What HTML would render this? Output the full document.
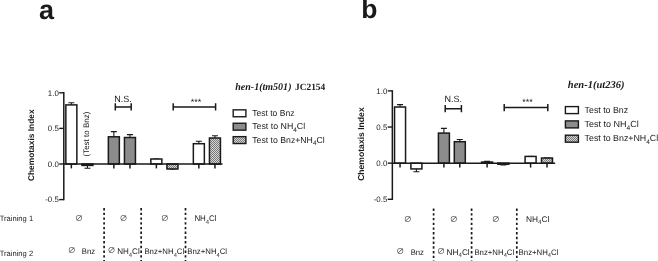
<!DOCTYPE html>
<html><head><meta charset="utf-8"><title>Chemotaxis Index</title>
<style>
html,body{margin:0;padding:0;background:#fff;}
svg{display:block}
text{text-rendering:geometricPrecision}
.s{font-family:"Liberation Sans",Arial,Helvetica,sans-serif;fill:#1a1a1a}
.o{font-family:"Liberation Sans","Noto Sans CJK SC",sans-serif;fill:#333}
.b{font-family:"Liberation Sans",Arial,Helvetica,sans-serif;font-weight:bold;fill:#1a1a1a}
.t{font-family:"Liberation Serif","Times New Roman",serif;font-weight:bold;fill:#1a1a1a}
</style></head><body>
<svg width="658" height="261" viewBox="0 0 658 261">
<defs><pattern id="hp" width="2" height="2" patternUnits="userSpaceOnUse"><rect width="2" height="2" fill="#d6d6d6"/><rect width="1" height="1" fill="#787878"/><rect x="1" y="1" width="1" height="1" fill="#787878"/></pattern></defs>
<rect width="658" height="261" fill="#fff"/>
<text x="39" y="18.5" font-size="27" class="b">a</text>
<text x="361.3" y="18.2" font-size="26.5" class="b">b</text>
<text transform="translate(34 145.25) rotate(-90)" text-anchor="middle" font-size="8.4" class="b">Chemotaxis Index</text>
<text transform="translate(364 144.1) rotate(-90)" text-anchor="middle" font-size="8.6" class="b">Chemotaxis Index</text>
<text transform="translate(89.2 156.5) rotate(-90)" font-size="8" class="s">(Test to Bnz)</text>
<path d="M71.35 104.90V102.77M68.35 102.77H74.35" stroke="#1a1a1a" stroke-width="1.1" fill="none"/>
<rect x="65.85" y="104.90" width="11.00" height="59.10" fill="#fff" stroke="#1a1a1a" stroke-width="1.5"/>
<path d="M87.45 165.42V168.27M84.45 168.27H90.45" stroke="#1a1a1a" stroke-width="1.1" fill="none"/>
<rect x="81.95" y="164.00" width="11.00" height="1.42" fill="#fff" stroke="#1a1a1a" stroke-width="1.5"/>
<path d="M113.85 136.80V131.60M110.85 131.60H116.85" stroke="#1a1a1a" stroke-width="1.1" fill="none"/>
<rect x="108.35" y="136.80" width="11.00" height="27.20" fill="#8c8c8c" stroke="#1a1a1a" stroke-width="1.5"/>
<path d="M129.95 137.51V134.67M126.95 134.67H132.95" stroke="#1a1a1a" stroke-width="1.1" fill="none"/>
<rect x="124.45" y="137.51" width="11.00" height="26.49" fill="#8c8c8c" stroke="#1a1a1a" stroke-width="1.5"/>
<path d="M156.35 159.02V159.02M153.35 159.02H159.35" stroke="#1a1a1a" stroke-width="1.1" fill="none"/>
<rect x="150.85" y="159.02" width="11.00" height="4.98" fill="#fff" stroke="#1a1a1a" stroke-width="1.5"/>
<path d="M172.45 168.98V168.98M169.45 168.98H175.45" stroke="#1a1a1a" stroke-width="1.1" fill="none"/>
<rect x="166.95" y="164.00" width="11.00" height="4.98" fill="url(#hp)" stroke="#1a1a1a" stroke-width="1.5"/>
<path d="M198.85 143.71V141.22M195.85 141.22H201.85" stroke="#1a1a1a" stroke-width="1.1" fill="none"/>
<rect x="193.35" y="143.71" width="11.00" height="20.29" fill="#fff" stroke="#1a1a1a" stroke-width="1.5"/>
<path d="M214.95 138.01V135.73M211.95 135.73H217.95" stroke="#1a1a1a" stroke-width="1.1" fill="none"/>
<rect x="209.45" y="138.01" width="11.00" height="25.99" fill="url(#hp)" stroke="#1a1a1a" stroke-width="1.5"/>
<path d="M63.80 92.10V200.30M63.80 164.00H222.50" stroke="#1a1a1a" stroke-width="1.5" fill="none"/>
<path d="M59.20 92.80H63.80" stroke="#1a1a1a" stroke-width="1.4"/>
<text x="58.80" y="95.60" text-anchor="end" font-size="7.9" class="s">1.0</text>
<path d="M59.20 128.40H63.80" stroke="#1a1a1a" stroke-width="1.4"/>
<text x="58.80" y="131.20" text-anchor="end" font-size="7.9" class="s">0.5</text>
<path d="M59.20 164.00H63.80" stroke="#1a1a1a" stroke-width="1.4"/>
<text x="58.80" y="166.80" text-anchor="end" font-size="7.9" class="s">0.0</text>
<path d="M59.20 199.60H63.80" stroke="#1a1a1a" stroke-width="1.4"/>
<text x="58.80" y="202.40" text-anchor="end" font-size="7.9" class="s">-0.5</text>
<path d="M71.35 164.00V168.40" stroke="#1a1a1a" stroke-width="1.5"/>
<path d="M113.85 164.00V168.40" stroke="#1a1a1a" stroke-width="1.5"/>
<path d="M129.95 164.00V168.40" stroke="#1a1a1a" stroke-width="1.5"/>
<path d="M156.35 164.00V168.40" stroke="#1a1a1a" stroke-width="1.5"/>
<path d="M198.85 164.00V168.40" stroke="#1a1a1a" stroke-width="1.5"/>
<path d="M214.95 164.00V168.40" stroke="#1a1a1a" stroke-width="1.5"/>
<path d="M115.30 106.90H131.20M115.30 103.30V110.50M131.20 103.30V110.50" stroke="#1a1a1a" stroke-width="1.5" fill="none"/>
<text x="123.00" y="101.90" text-anchor="middle" font-size="9.0" class="s">N.S.</text>
<path d="M173.20 106.90H215.60M173.20 103.30V110.50M215.60 103.30V110.50" stroke="#1a1a1a" stroke-width="1.5" fill="none"/>
<text x="196.00" y="104.80" text-anchor="middle" font-size="9" class="s">***</text>
<path d="M400.05 107.01V104.63M397.05 104.63H403.05" stroke="#1a1a1a" stroke-width="1.1" fill="none"/>
<rect x="394.55" y="107.01" width="11.00" height="56.14" fill="#fff" stroke="#1a1a1a" stroke-width="1.5"/>
<path d="M416.40 168.93V171.82M413.40 171.82H419.40" stroke="#1a1a1a" stroke-width="1.1" fill="none"/>
<rect x="410.90" y="163.15" width="11.00" height="5.78" fill="#fff" stroke="#1a1a1a" stroke-width="1.5"/>
<path d="M443.90 133.09V128.33M440.90 128.33H446.90" stroke="#1a1a1a" stroke-width="1.1" fill="none"/>
<rect x="438.40" y="133.09" width="11.00" height="30.06" fill="#8c8c8c" stroke="#1a1a1a" stroke-width="1.5"/>
<path d="M459.80 141.69V139.45M456.80 139.45H462.80" stroke="#1a1a1a" stroke-width="1.1" fill="none"/>
<rect x="454.30" y="141.69" width="11.00" height="21.46" fill="#8c8c8c" stroke="#1a1a1a" stroke-width="1.5"/>
<path d="M487.10 162.07V161.34M484.10 161.34H490.10" stroke="#1a1a1a" stroke-width="1.1" fill="none"/>
<rect x="481.60" y="162.07" width="11.00" height="1.08" fill="#fff" stroke="#1a1a1a" stroke-width="1.5"/>
<path d="M503.35 164.23V164.96M500.35 164.96H506.35" stroke="#1a1a1a" stroke-width="1.1" fill="none"/>
<rect x="497.85" y="163.15" width="11.00" height="1.08" fill="url(#hp)" stroke="#1a1a1a" stroke-width="1.5"/>
<path d="M530.60 156.43V156.43M527.60 156.43H533.60" stroke="#1a1a1a" stroke-width="1.1" fill="none"/>
<rect x="525.10" y="156.43" width="11.00" height="6.72" fill="#fff" stroke="#1a1a1a" stroke-width="1.5"/>
<path d="M547.00 158.02V158.02M544.00 158.02H550.00" stroke="#1a1a1a" stroke-width="1.1" fill="none"/>
<rect x="541.50" y="158.02" width="11.00" height="5.13" fill="url(#hp)" stroke="#1a1a1a" stroke-width="1.5"/>
<path d="M392.35 90.20V199.97M392.35 163.15H555.20" stroke="#1a1a1a" stroke-width="1.5" fill="none"/>
<path d="M387.75 90.90H392.35" stroke="#1a1a1a" stroke-width="1.4"/>
<text x="387.35" y="93.70" text-anchor="end" font-size="7.9" class="s">1.0</text>
<path d="M387.75 127.03H392.35" stroke="#1a1a1a" stroke-width="1.4"/>
<text x="387.35" y="129.83" text-anchor="end" font-size="7.9" class="s">0.5</text>
<path d="M387.75 163.15H392.35" stroke="#1a1a1a" stroke-width="1.4"/>
<text x="387.35" y="165.95" text-anchor="end" font-size="7.9" class="s">0.0</text>
<path d="M387.75 199.28H392.35" stroke="#1a1a1a" stroke-width="1.4"/>
<text x="387.35" y="202.08" text-anchor="end" font-size="7.9" class="s">-0.5</text>
<path d="M400.05 163.15V167.55" stroke="#1a1a1a" stroke-width="1.5"/>
<path d="M443.90 163.15V167.55" stroke="#1a1a1a" stroke-width="1.5"/>
<path d="M459.80 163.15V167.55" stroke="#1a1a1a" stroke-width="1.5"/>
<path d="M487.10 163.15V167.55" stroke="#1a1a1a" stroke-width="1.5"/>
<path d="M530.60 163.15V167.55" stroke="#1a1a1a" stroke-width="1.5"/>
<path d="M547.00 163.15V167.55" stroke="#1a1a1a" stroke-width="1.5"/>
<path d="M445.20 108.70H461.40M445.20 105.10V112.30M461.40 105.10V112.30" stroke="#1a1a1a" stroke-width="1.5" fill="none"/>
<text x="453.30" y="102.40" text-anchor="middle" font-size="9.0" class="s">N.S.</text>
<path d="M504.20 107.60H547.80M504.20 104.00V111.20M547.80 104.00V111.20" stroke="#1a1a1a" stroke-width="1.5" fill="none"/>
<text x="527.40" y="105.10" text-anchor="middle" font-size="9" class="s">***</text>
<text x="235.2" y="90.2" font-size="10.2" class="t" font-style="italic" textLength="56.3" lengthAdjust="spacingAndGlyphs">hen-1(tm501)</text>
<text x="295" y="90.2" font-size="9.6" class="t" textLength="30.2" lengthAdjust="spacingAndGlyphs">JC2154</text>
<text x="567.8" y="87.5" font-size="10.5" class="t" font-style="italic">hen-1(ut236)</text>
<rect x="233.2" y="109.85" width="12.7" height="6.9" fill="#fff" stroke="#1a1a1a" stroke-width="1.4"/>
<rect x="233.2" y="123.25" width="12.7" height="6.9" fill="#8c8c8c" stroke="#1a1a1a" stroke-width="1.4"/>
<rect x="233.2" y="136.65" width="12.7" height="6.9" fill="url(#hp)" stroke="#1a1a1a" stroke-width="1.4"/>
<text x="252.2" y="116.0" font-size="8.7" class="s" textLength="42.3" lengthAdjust="spacingAndGlyphs">Test to Bnz</text>
<text x="252.2" y="129.4" font-size="8.7" class="s" textLength="53.0" lengthAdjust="spacingAndGlyphs">Test to NH<tspan dy="2.6" font-size="6.4">4</tspan><tspan dy="-2.6">Cl</tspan></text>
<text x="252.2" y="142.79999999999998" font-size="8.7" class="s" textLength="72.5" lengthAdjust="spacingAndGlyphs">Test to Bnz+NH<tspan dy="2.6" font-size="6.4">4</tspan><tspan dy="-2.6">Cl</tspan></text>
<rect x="565.4" y="106.6" width="13" height="7" fill="#fff" stroke="#1a1a1a" stroke-width="1.4"/>
<rect x="565.4" y="120.9" width="13" height="7" fill="#8c8c8c" stroke="#1a1a1a" stroke-width="1.4"/>
<rect x="565.4" y="135.2" width="13" height="7" fill="url(#hp)" stroke="#1a1a1a" stroke-width="1.4"/>
<text x="584.6" y="112.8" font-size="8.85" class="s" textLength="43.5" lengthAdjust="spacingAndGlyphs">Test to Bnz</text>
<text x="584.6" y="127.10000000000001" font-size="8.85" class="s" textLength="54.2" lengthAdjust="spacingAndGlyphs">Test to NH<tspan dy="2.6" font-size="6.5">4</tspan><tspan dy="-2.6">Cl</tspan></text>
<text x="584.6" y="141.39999999999998" font-size="8.85" class="s" textLength="73.6" lengthAdjust="spacingAndGlyphs">Test to Bnz+NH<tspan dy="2.6" font-size="6.5">4</tspan><tspan dy="-2.6">Cl</tspan></text>
<text x="-0.3" y="220.6" font-size="7.7" class="s" textLength="33.4" lengthAdjust="spacingAndGlyphs">Training 1</text>
<text x="-0.3" y="256.2" font-size="7.7" class="s" textLength="33.4" lengthAdjust="spacingAndGlyphs">Training 2</text>
<path d="M104.10 208V261" stroke="#1a1a1a" stroke-width="1.7" stroke-dasharray="2.4 2.32" fill="none"/>
<path d="M141.15 208V261" stroke="#1a1a1a" stroke-width="1.7" stroke-dasharray="2.4 2.32" fill="none"/>
<path d="M185.50 208V261" stroke="#1a1a1a" stroke-width="1.7" stroke-dasharray="2.4 2.32" fill="none"/>
<text x="78.90" y="220.9" font-size="8" text-anchor="middle" class="o">&#8709;</text>
<text x="123.50" y="220.9" font-size="8" text-anchor="middle" class="o">&#8709;</text>
<text x="164.80" y="220.9" font-size="8" text-anchor="middle" class="o">&#8709;</text>
<text x="194.4" y="221.1" font-size="8.2" class="s" textLength="22.2" lengthAdjust="spacingAndGlyphs">NH<tspan dy="2.6" font-size="6.1">4</tspan><tspan dy="-2.6">Cl</tspan></text>
<text x="71.80" y="253.0" font-size="8" text-anchor="middle" class="o">&#8709;</text>
<text x="111.50" y="253.0" font-size="8" text-anchor="middle" class="o">&#8709;</text>
<text x="81.80" y="253.9" font-size="8" class="s" textLength="13.3" lengthAdjust="spacingAndGlyphs">Bnz</text>
<text x="117.2" y="253.9" font-size="8.2" class="s" textLength="22.5" lengthAdjust="spacingAndGlyphs">NH<tspan dy="2.6" font-size="6.1">4</tspan><tspan dy="-2.6">Cl</tspan></text>
<text x="144.4" y="253.9" font-size="8" class="s" textLength="39.8" lengthAdjust="spacingAndGlyphs">Bnz+NH<tspan dy="2.6" font-size="5.9">4</tspan><tspan dy="-2.6">Cl</tspan></text>
<text x="187.3" y="253.9" font-size="8" class="s" textLength="39.8" lengthAdjust="spacingAndGlyphs">Bnz+NH<tspan dy="2.6" font-size="5.9">4</tspan><tspan dy="-2.6">Cl</tspan></text>
<path d="M433.60 208.5V261" stroke="#1a1a1a" stroke-width="1.7" stroke-dasharray="2.4 2.32" fill="none"/>
<path d="M471.60 208.5V261" stroke="#1a1a1a" stroke-width="1.7" stroke-dasharray="2.4 2.32" fill="none"/>
<path d="M516.80 208.5V261" stroke="#1a1a1a" stroke-width="1.7" stroke-dasharray="2.4 2.32" fill="none"/>
<text x="407.80" y="221.6" font-size="8" text-anchor="middle" class="o">&#8709;</text>
<text x="453.70" y="221.6" font-size="8" text-anchor="middle" class="o">&#8709;</text>
<text x="495.75" y="221.6" font-size="8" text-anchor="middle" class="o">&#8709;</text>
<text x="525.9" y="221.7" font-size="8.2" class="s" textLength="23.4" lengthAdjust="spacingAndGlyphs">NH<tspan dy="2.6" font-size="6.1">4</tspan><tspan dy="-2.6">Cl</tspan></text>
<text x="400.30" y="254.1" font-size="8" text-anchor="middle" class="o">&#8709;</text>
<text x="441.10" y="254.1" font-size="8" text-anchor="middle" class="o">&#8709;</text>
<text x="410.70" y="254.8" font-size="8" class="s" textLength="13.3" lengthAdjust="spacingAndGlyphs">Bnz</text>
<text x="446.6" y="254.8" font-size="8.2" class="s" textLength="23.1" lengthAdjust="spacingAndGlyphs">NH<tspan dy="2.6" font-size="6.1">4</tspan><tspan dy="-2.6">Cl</tspan></text>
<text x="474.4" y="254.8" font-size="8" class="s" textLength="39.8" lengthAdjust="spacingAndGlyphs">Bnz+NH<tspan dy="2.6" font-size="5.9">4</tspan><tspan dy="-2.6">Cl</tspan></text>
<text x="518.6" y="254.8" font-size="8" class="s" textLength="39.8" lengthAdjust="spacingAndGlyphs">Bnz+NH<tspan dy="2.6" font-size="5.9">4</tspan><tspan dy="-2.6">Cl</tspan></text>
</svg>
</body></html>
